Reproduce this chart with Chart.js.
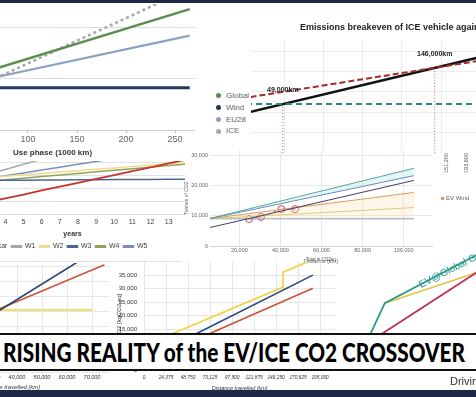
<!DOCTYPE html>
<html lang="en">

<head>
    <meta charset="UTF-8">
    <title>Rising reality of the EV/ICE CO2 crossover</title>
    <script src="https://cdn.jsdelivr.net/npm/chart.js"></script>
    <style>
        body {
            margin: 0;
            width: 476px;
            height: 397px;
            overflow: hidden;
            position: relative;
            background: #fff;
            font-family: "Liberation Sans", Arial, sans-serif;
        }

        canvas {
            position: absolute;
        }

        .bar {
            position: absolute;
            left: 0;
            width: 476px;
            background: #1c2a47;
            z-index: 5;
        }

        #legendA {
            position: absolute;
            left: 216px;
            top: 90px;
            font-size: 8px;
            color: #666;
            line-height: 11.8px;
        }

        #legendA .dot {
            display: inline-block;
            width: 5px;
            height: 5px;
            border-radius: 50%;
            margin-right: 5px;
            vertical-align: middle;
        }

        .note {
            position: absolute;
            white-space: nowrap;
        }

        #banner {
            position: absolute;
            left: -10px;
            top: 333px;
            width: 496px;
            height: 34px;
            background: #fff;
            border-top: 2px solid #111;
            border-bottom: 2px solid #111;
            z-index: 4;
        }

        #bannerText {
            position: absolute;
            left: 13px;
            top: 1px;
            font-family: Lato, "DejaVu Sans", sans-serif;
            font-weight: 900;
            font-size: 27px;
            line-height: 32px;
            color: #000;
            white-space: nowrap;
            transform-origin: 0 0;
        }
    </style>
</head>

<body>
    <div class="bar" style="top:0;height:3px"></div>

    <canvas id="chartA" width="285" height="158" style="left:-90px;top:4px"></canvas>
    <div id="legendA"></div>

    <canvas id="chartB" width="300" height="149" style="left:251px;top:4px"></canvas>
    <div class="note" style="left:436px;top:160px;font-size:5.5px;color:#555;transform:rotate(-90deg)">151,200</div>
    <div class="note" style="left:456px;top:160px;font-size:5.5px;color:#555;transform:rotate(-90deg)">193,600</div>

    <canvas id="chartC" width="225" height="99" style="left:-40px;top:161px"></canvas>
    <div style="position:absolute;left:0;top:261px;width:182px;height:1px;background:#e2e2e2"></div>

    <canvas id="chartD" width="257" height="123" style="left:180px;top:145px"></canvas>
    <div class="note" style="left:441px;top:195px;font-size:6px;color:#666">
        <span style="display:inline-block;width:3px;height:3px;background:#dd9a5c;margin-right:2px"></span>EV Wind</div>

    <canvas id="chartE" width="201" height="129" style="left:-91px;top:263px"></canvas>

    <canvas id="chartF" width="223" height="136" style="left:112px;top:257px"></canvas>
    <div class="note" style="left:306px;top:257px;font-size:4.5px;color:#555">Total in CO2eq</div>

    <canvas id="chartG" width="180" height="122" style="left:330px;top:250px"></canvas>
    <div class="note" style="left:417px;top:280px;font-size:10px;color:#2a9a8a;transform:rotate(-27deg);transform-origin:0 0">EV@Global Grid</div>

    <div id="banner"><span id="bannerText">RISING REALITY of the EV/ICE CO2 CROSSOVER</span></div>
    <div class="note" style="left:450px;top:375px;font-size:11px;color:#333">Driving</div>
    <div class="bar" style="top:390px;height:7px"></div>

    <script type="text/javascript">
        // Panel A: use phase (1000 km) vs tonnes CO2
        const useKm = [0, 265];
        const globalT = [8.1, 23.7];
        const windT = [8.3, 8.3];
        const eu28T = [7.6, 18.5];
        const iceT = [4.2, 27.7];
        const ticksAx = [0, 50, 100, 150, 200, 250];
        const ticksAy = [0, 10, 20];

        // Panel B: breakeven ICE vs EV (1000 km)
        const breakKm = [0, 250];
        const evGridT = [12.0, 27.2];
        const iceBreakT = [7.5, 30.4];
        const evWindT = [12.0, 12.0];
        const crossKm = [49, 146];
        const crossT = [12.0, 20.9];
        const crossText = ['49,000km', '146,000km'];
        const gridBx = [50, 75, 100, 125, 150, 175, 200];
        const gridBy = [0, 5, 10, 15, 20, 25];

        // Panel C: years vs tonnes CO2
        const years = [1, 2, 3, 4, 5, 6, 7, 8, 9, 10, 11, 12, 13, 14];
        const carT = [1.6, 3.1, 4.6, 6.1, 7.6, 9.2, 10.7, 12.2, 13.7, 15.2, 16.7, 18.2, 19.8, 21.3];
        const w1T = [11.3, 13.3, 15.4, 17.4, 19.4, 21.4, 23.4, 25.4, 27.4, 29.4, 31.4, 33.4, 35.4, 37.4];
        const w2T = [13.1, 13.6, 14.2, 14.7, 15.3, 15.8, 16.4, 16.9, 17.5, 18.0, 18.6, 19.1, 19.7, 20.2];
        const w3T = [13.4, 13.3, 13.2, 13.2, 13.2, 13.3, 13.3, 13.4, 13.4, 13.5, 13.5, 13.5, 13.6, 13.6];
        const w4T = [11.5, 12.1, 12.8, 13.4, 14.0, 14.6, 15.2, 15.8, 16.5, 17.1, 17.7, 18.3, 18.9, 19.5];
        const w5T = [11.5, 12.7, 13.8, 14.9, 16.0, 17.2, 18.3, 19.4, 20.5, 21.7, 22.8, 23.9, 25.0, 26.2];
        const ticksCx = [2, 3, 4, 5, 6, 7, 8, 9, 10, 11, 12, 13];
        const gridCy = [0, 5, 10, 15, 20];

        // Panel D: distance (km) vs tonnes of CO2
        const distD = [5000, 105000];
        const flatD = [9000, 9000];
        const oliveD = [9000, 12700];
        const orangeD = [9000, 17700];
        const darkD = [6000, 21700];
        const blueD = [9000, 23300];
        const tealD = [9000, 25700];
        const circleKm = [24800, 30500, 40500, 47100];
        const circleT = [8900, 9600, 12200, 12200];
        const ticksDx = [20000, 40000, 60000, 80000, 100000];
        const ticksDy = [0, 10000, 20000, 30000];

        // Panel E: distance travelled (km) vs kgCO2
        const distE = [30000, 70000];
        const blueE = [19000, 39600];
        const redE = [20000, 35700];
        const yellowE = [20700, 20700];
        const ticksEx = [0, 10000, 20000, 30000, 40000, 50000, 60000, 70000];
        const gridEy = [0, 5000, 10000, 15000, 20000, 25000, 30000, 35000];

        // Panel F: distance travelled (km) vs CO2 [kgCO2,eq]
        const yellowFKm = [0, 154000, 154000, 172700, 180000];
        const yellowF = [9000, 30600, 36100, 38700, 39800];
        const blueFKm = [0, 187000];
        const blueF = [3700, 35000];
        const redFKm = [0, 187000];
        const redF = [2800, 30200];
        const ticksFx = [0, 24375, 48750, 73125, 97500, 121875, 146250, 170625, 195000];
        const ticksFy = [0, 5000, 10000, 15000, 20000, 25000, 30000, 35000];

        // Panel G: EV@Global Grid
        const tealGKm = [0, 31, 145, 180];
        const tealG = [3.9, 17.2, 29.2, 33.0];
        const magGKm = [0, 180];
        const magG = [6.0, 29.3];
        const yelGKm = [31, 145, 180];
        const yelG = [17.2, 24.8, 27.0];

        Chart.defaults.font.family = '"Liberation Sans", Arial, sans-serif';
        Chart.defaults.animation = false;
        Chart.defaults.responsive = false;
        Chart.defaults.devicePixelRatio = 1;
        Chart.defaults.plugins.legend.display = false;
        Chart.defaults.plugins.tooltip.enabled = false;
        Chart.defaults.elements.point.radius = 0;

        const pts = (xs, ys) => xs.map((x, i) => ({ x: x, y: ys[i] }));
        const fixW = w => s => { s.width = w; };
        const fixH = h => s => { s.height = h; };
        const setTicks = vals => s => { s.ticks = vals.map(v => ({ value: v })); };
        const hiddenY = (min, max, vals, color) => ({
            min: min, max: max,
            ticks: { display: false },
            grid: { color: color || 'rgba(0,0,0,0)', drawTicks: false },
            border: { display: false },
            afterBuildTicks: setTicks(vals),
            afterFit: fixW(0)
        });
        const line = (label, data, color, width, extra) =>
            Object.assign({ label: label, data: data, borderColor: color, backgroundColor: color, borderWidth: width }, extra || {});

        // ---- Panel A
        const chartA = new Chart(document.getElementById('chartA'), {
            type: 'line',
            data: {
                datasets: [
                    line('Global', pts(useKm, globalT), '#5b8f4e', 2.5),
                    line('Wind', pts(useKm, windT), '#22395b', 3),
                    line('EU28', pts(useKm, eu28T), '#8aa3c4', 2.2),
                    line('ICE', pts(useKm, iceT), '#a6a6ae', 2.5, { borderDash: [3, 3] })
                ]
            },
            options: {
                layout: { padding: 0 },
                scales: {
                    x: {
                        type: 'linear', min: -20.4, max: 270.4,
                        afterBuildTicks: setTicks(ticksAx),
                        ticks: { padding: 1, color: '#666', font: { size: 9 }, autoSkip: false, maxRotation: 0 },
                        grid: { drawOnChartArea: false, tickLength: 3, color: '#bbb' },
                        border: { color: '#ccc' },
                        title: { display: true, text: 'Use phase (1000 km)', color: '#333', font: { size: 8, weight: 'bold' } },
                        afterFit: fixH(32)
                    },
                    y: hiddenY(0, 24.7, ticksAy, '#dedede')
                }
            }
        });

        // HTML legend from the datasets
        const legendA = document.getElementById('legendA');
        chartA.data.datasets.forEach(ds => {
            const row = document.createElement('div');
            row.innerHTML = '<span class="dot" style="background:' + ds.borderColor + '"></span>' + ds.label;
            legendA.appendChild(row);
        });

        // ---- Panel B
        const crossLabels = {
            id: 'crossLabels',
            afterDatasetsDraw(chart) {
                const { ctx, scales: { x, y } } = chart;
                ctx.save();
                ctx.font = 'bold 7px "Liberation Sans", Arial';
                ctx.fillStyle = '#222';
                ctx.textAlign = 'center';
                crossKm.forEach((km, i) => {
                    ctx.fillText(crossText[i], x.getPixelForValue(km), y.getPixelForValue(crossT[i]) - 12);
                });
                ctx.restore();
            }
        };
        const dropLines = crossKm.map((km, i) =>
            line('drop' + i, [{ x: km, y: crossT[i] }, { x: km, y: 0 }], '#d05a5a', 1, { borderDash: [1, 2] }));

        new Chart(document.getElementById('chartB'), {
            type: 'line',
            data: {
                datasets: [
                    line('EV Wind', pts(breakKm, evWindT), '#2a8a80', 2, { borderDash: [6, 4] }),
                    line('EV grid', pts(breakKm, evGridT), '#a82a2a', 2, { borderDash: [6, 3] }),
                    line('ICE', pts(breakKm, iceBreakT), '#111', 2.5)
                ].concat(dropLines)
            },
            options: {
                plugins: {
                    title: {
                        display: true, text: 'Emissions breakeven of ICE vehicle against EV',
                        color: '#222', font: { size: 9, weight: 'bold' }, padding: { top: 18, bottom: 8 }
                    }
                },
                scales: {
                    x: {
                        type: 'linear', min: 28.7, max: 220.2,
                        afterBuildTicks: setTicks(gridBx),
                        ticks: { display: false },
                        grid: { color: '#ececec', drawTicks: false },
                        border: { display: false },
                        afterFit: fixH(0)
                    },
                    y: hiddenY(0, 27.5, gridBy, '#ececec')
                }
            },
            plugins: [crossLabels]
        });

        // ---- Panel C
        new Chart(document.getElementById('chartC'), {
            type: 'line',
            data: {
                datasets: [
                    line('Petrol car', pts(years, carT), '#c8322c', 1.8),
                    line('W1', pts(years, w1T), '#a7a7a7', 1.5),
                    line('W2', pts(years, w2T), '#f3d98a', 1.5),
                    line('W3', pts(years, w3T), '#4d6890', 1.5),
                    line('W4', pts(years, w4T), '#8fa65a', 1.5),
                    line('W5', pts(years, w5T), '#7690bb', 1.5)
                ]
            },
            options: {
                plugins: {
                    legend: {
                        display: true, position: 'bottom', align: 'start',
                        labels: { boxWidth: 10, boxHeight: 1.5, padding: 4, color: '#444', font: { size: 7 } }
                    }
                },
                scales: {
                    x: {
                        type: 'linear', min: 1.5, max: 13.9,
                        afterBuildTicks: setTicks(ticksCx),
                        ticks: { padding: 4, color: '#444', font: { size: 7 }, autoSkip: false, maxRotation: 0 },
                        grid: { drawOnChartArea: false, drawTicks: false },
                        border: { display: false },
                        title: { display: true, text: 'years', color: '#333', font: { size: 7, weight: 'bold' }, padding: { top: 2, bottom: 1 } },
                        afterFit: fixH(25)
                    },
                    y: hiddenY(0, 20.7, gridCy, '#e2e2e2')
                }
            }
        });

        // ---- Panel D
        new Chart(document.getElementById('chartD'), {
            type: 'line',
            data: {
                datasets: [
                    line('EV Global', pts(distD, tealD), '#5aa89a', 1, { fill: '+1', backgroundColor: 'rgba(190,232,238,0.4)' }),
                    line('EV EU', pts(distD, blueD), '#4f79b5', 1),
                    line('ICE', pts(distD, darkD), '#4a3a6a', 1),
                    line('EV Wind', pts(distD, orangeD), '#dd9a5c', 1, { fill: { target: 5 }, backgroundColor: 'rgba(252,225,180,0.3)' }),
                    line('EV Solar', pts(distD, oliveD), '#c9c36a', 1),
                    line('EV Hydro', pts(distD, flatD), '#7a96b0', 1),
                    line('Breakeven', pts(circleKm, circleT), '#c04848', 1,
                        { borderDash: [3, 2], pointRadius: 3.5, pointBorderWidth: 1, pointBackgroundColor: 'rgba(0,0,0,0)' })
                ]
            },
            options: {
                scales: {
                    x: {
                        type: 'linear', min: 5714, max: 113810,
                        afterBuildTicks: setTicks(ticksDx),
                        ticks: { padding: 1, color: '#666', font: { size: 5.5 }, autoSkip: false, maxRotation: 0 },
                        grid: { color: '#e8e8e8', drawTicks: false },
                        border: { color: '#d8d8d8' },
                        title: { display: true, text: 'Distance (km)', color: '#666', font: { size: 5.5 }, padding: { top: 2, bottom: 3 } },
                        afterFit: fixH(22)
                    },
                    y: {
                        min: 0, max: 31650,
                        afterBuildTicks: setTicks(ticksDy),
                        ticks: { padding: 2, color: '#666', font: { size: 5.5 } },
                        grid: { color: '#e8e8e8', drawTicks: false },
                        border: { display: false },
                        title: { display: true, text: 'Tonnes of CO2', color: '#666', font: { size: 5 } },
                        afterFit: fixW(30)
                    }
                }
            }
        });

        // ---- Panel E
        new Chart(document.getElementById('chartE'), {
            type: 'line',
            data: {
                datasets: [
                    line('EV', pts(distE, blueE), '#27456f', 1.6),
                    line('ICE', pts([30000, 75000], redE), '#c8573a', 1.6),
                    line('EV battery', pts([0, 70000], yellowE), '#eedd55', 1.8)
                ]
            },
            options: {
                scales: {
                    x: {
                        type: 'linear', min: -3200, max: 77200,
                        afterBuildTicks: setTicks(ticksEx),
                        ticks: { padding: 2.4, color: '#333', font: { size: 5.5, style: 'italic' }, autoSkip: false, maxRotation: 0 },
                        grid: { color: '#e6e6e6', drawTicks: false },
                        border: { display: false },
                        title: { display: true, text: 'Distance travelled [km]', color: '#333', font: { size: 6, style: 'italic' }, padding: { top: 1, bottom: 1.4 } },
                        afterFit: fixH(20)
                    },
                    y: hiddenY(0, 36300, gridEy, '#e6e6e6')
                }
            }
        });

        // ---- Panel F
        new Chart(document.getElementById('chartF'), {
            type: 'line',
            data: {
                datasets: [
                    line('Petrol', pts(yellowFKm, yellowF), '#eed64a', 1.8),
                    line('EV', pts(blueFKm, blueF), '#24497f', 1.6),
                    line('Diesel', pts(redFKm, redF), '#c9563c', 1.6)
                ]
            },
            options: {
                scales: {
                    x: {
                        type: 'linear', min: 0, max: 211517,
                        afterBuildTicks: setTicks(ticksFx),
                        ticks: { padding: 5, color: '#333', font: { size: 4.8, style: 'italic' }, autoSkip: false, maxRotation: 0 },
                        grid: { color: '#e6e6e6', drawTicks: false },
                        border: { display: false },
                        title: { display: true, text: 'Distance travelled [km]', color: '#333', font: { size: 5.5, style: 'italic' }, padding: { top: 1, bottom: 1 } },
                        afterFit: fixH(23)
                    },
                    y: {
                        min: 0, max: 40000,
                        afterBuildTicks: setTicks(ticksFy),
                        ticks: { padding: 1, color: '#333', font: { size: 6 } },
                        grid: { color: '#e6e6e6', drawTicks: true, tickLength: 6, tickColor: 'rgba(0,0,0,0)' },
                        border: { display: false },
                        title: { display: true, text: 'CO2 [kgCO2,eq]', color: '#333', font: { size: 6 } },
                        afterFit: fixW(32)
                    }
                }
            }
        });

        // ---- Panel G
        new Chart(document.getElementById('chartG'), {
            type: 'line',
            data: {
                datasets: [
                    line('EV@Global Grid', pts(tealGKm, tealG), '#2a9a8a', 1.8),
                    line('ICE', pts(magGKm, magG), '#b8305e', 1.8),
                    line('EV@EU Grid', pts(yelGKm, yelG), '#e2c443', 1.6)
                ]
            },
            options: {
                scales: {
                    x: {
                        type: 'linear', min: -37.5, max: 187.5,
                        ticks: { display: false },
                        grid: { color: 'rgba(0,0,0,0)', drawTicks: false },
                        border: { display: false },
                        afterFit: fixH(0)
                    },
                    y: hiddenY(0, 30.5, [0, 10, 20, 30])
                }
            }
        });

        // squeeze the banner title into the width of the original
        const bt = document.getElementById('bannerText');
        bt.style.transform = 'scaleX(' + (462 / bt.offsetWidth) + ')';
    </script>

</body>

</html>
